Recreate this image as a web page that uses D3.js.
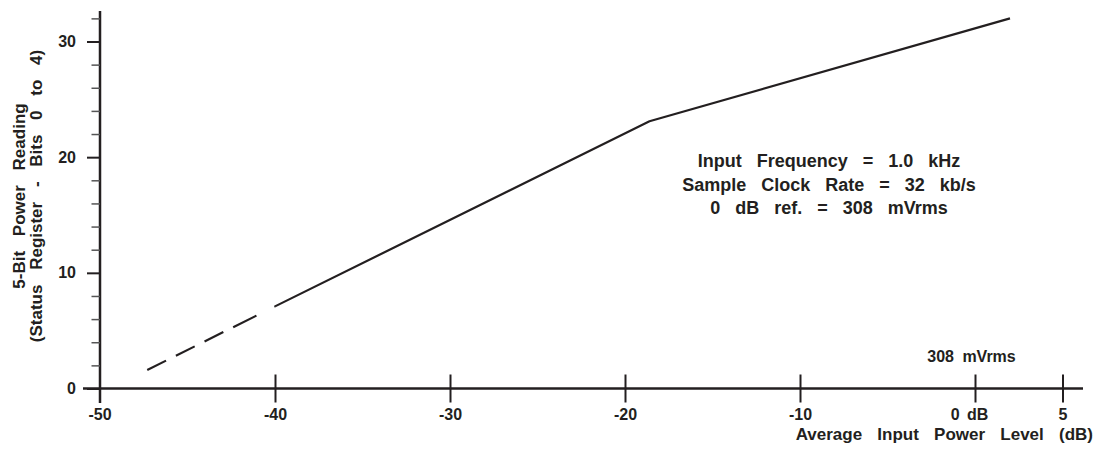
<!DOCTYPE html>
<html><head><meta charset="utf-8">
<script src="https://cdn.jsdelivr.net/npm/d3@7/dist/d3.min.js"></script>
<style>
html,body{margin:0;padding:0;background:#fff;}
text{font-family:"Liberation Sans",Arial,sans-serif;font-weight:bold;fill:#231f20;}
</style></head>
<body><svg id="c" width="1099" height="451"></svg>
<script>
// Data
const xTicks = [-50, -40, -30, -20, -10, 0, 5];
const xTickLabels = ["-50", "-40", "-30", "-20", "-10", "0 dB", "5"];
const yTicks = [0, 10, 20, 30];
const yMinorTicks = [2, 4, 6, 8, 12, 14, 16, 18, 22, 24, 26, 28, 32];
const dashedX = [-47.3, -40];
const dashedY = [1.6, 7.1];
const solidX = [-40, -18.6, 2.0];
const solidY = [7.1, 23.1, 32.0];
const noteLines = ["Input Frequency = 1.0 kHz", "Sample Clock Rate = 32 kb/s", "0 dB ref. = 308 mVrms"];
const refLabel = "308 mVrms";
const xTitle = "Average Input Power Level (dB)";
const yTitle = ["5-Bit Power Reading", "(Status Register - Bits 0 to 4)"];

const svg = d3.select("#c");
const ink = "#231f20";
const x = d3.scaleLinear().domain([-50, 5]).range([100, 1062.5]);
const y = d3.scaleLinear().domain([0, 30]).range([388.5, 41.5]);
const y0 = y(0);

// Axis lines
svg.append("line").attr("x1", 83).attr("x2", 1083).attr("y1", y0).attr("y2", y0)
  .attr("stroke", ink).attr("stroke-width", 2.5);
svg.append("line").attr("x1", x(-50)).attr("x2", x(-50)).attr("y1", 11).attr("y2", 403)
  .attr("stroke", ink).attr("stroke-width", 2.5);

// Y axis major
const yAx = svg.append("g").attr("transform", `translate(${x(-50)},0)`)
  .call(d3.axisLeft(y).tickValues(yTicks).tickSize(13).tickPadding(11).tickFormat(d3.format("d")));
yAx.select(".domain").remove();
yAx.selectAll("line").attr("stroke", ink).attr("stroke-width", 2);
yAx.selectAll("text").attr("font-size", 16).attr("fill", ink).style("font-family", "Liberation Sans, Arial, sans-serif").style("font-weight", "bold");

// Y axis minor
const yMin = svg.append("g").attr("transform", `translate(${x(-50)},0)`)
  .call(d3.axisLeft(y).tickValues(yMinorTicks).tickSize(8.5).tickFormat(""));
yMin.select(".domain").remove();
yMin.selectAll("line").attr("stroke", "#555").attr("stroke-width", 1.5);

// X axis with crossing ticks
const xAx = svg.append("g").attr("transform", `translate(0,${y0})`)
  .call(d3.axisBottom(x).tickValues(xTicks).tickSize(14).tickPadding(6)
    .tickFormat((d, i) => xTickLabels[i]));
xAx.select(".domain").remove();
xAx.selectAll("line").attr("y1", -14).attr("stroke", ink).attr("stroke-width", 2);
xAx.selectAll("text").attr("font-size", 16).attr("fill", ink).attr("dy", "0.71em")
  .style("font-family", "Liberation Sans, Arial, sans-serif").style("font-weight", "bold");
xAx.selectAll(".tick").filter(d => d === -50).remove();
xAx.selectAll(".tick text").filter(d => d === 0).attr("dx", -6).style("word-spacing", "3px");

// -50 label (tick at the axis origin)
svg.append("text").attr("x", x(-50)).attr("y", 420).attr("text-anchor", "middle")
  .attr("font-size", 16).text(xTickLabels[0]);

// Lines
const line = d3.line().x(d => x(d[0])).y(d => y(d[1]));
svg.append("path").datum(dashedX.map((v, i) => [v, dashedY[i]]))
  .attr("d", line).attr("fill", "none").attr("stroke", ink).attr("stroke-width", 2.2)
  .attr("stroke-dasharray", "21,11,21,11,21,11,26,20");
svg.append("path").datum(solidX.map((v, i) => [v, solidY[i]]))
  .attr("d", line).attr("fill", "none").attr("stroke", ink).attr("stroke-width", 2.2)
  .attr("stroke-linejoin", "round");

// Annotation
noteLines.forEach((t, i) => {
  svg.append("text").attr("x", 829).attr("y", 167 + i * 23.5).attr("text-anchor", "middle")
    .attr("font-size", 18).style("word-spacing", "10px").text(t);
});
svg.append("text").attr("x", 971.5).attr("y", 362).attr("text-anchor", "middle")
  .attr("font-size", 16).style("word-spacing", "4px").text(refLabel);

// Axis titles
svg.append("text").attr("x", 1093).attr("y", 440).attr("text-anchor", "end")
  .attr("font-size", 17).style("word-spacing", "10.5px").text(xTitle);
yTitle.forEach((t, i) => {
  svg.append("text").attr("transform", `translate(${25 + i * 17},196) rotate(-90)`)
    .attr("text-anchor", "middle").attr("font-size", 17).style("word-spacing", "10px").text(t);
});
</script></body></html>
